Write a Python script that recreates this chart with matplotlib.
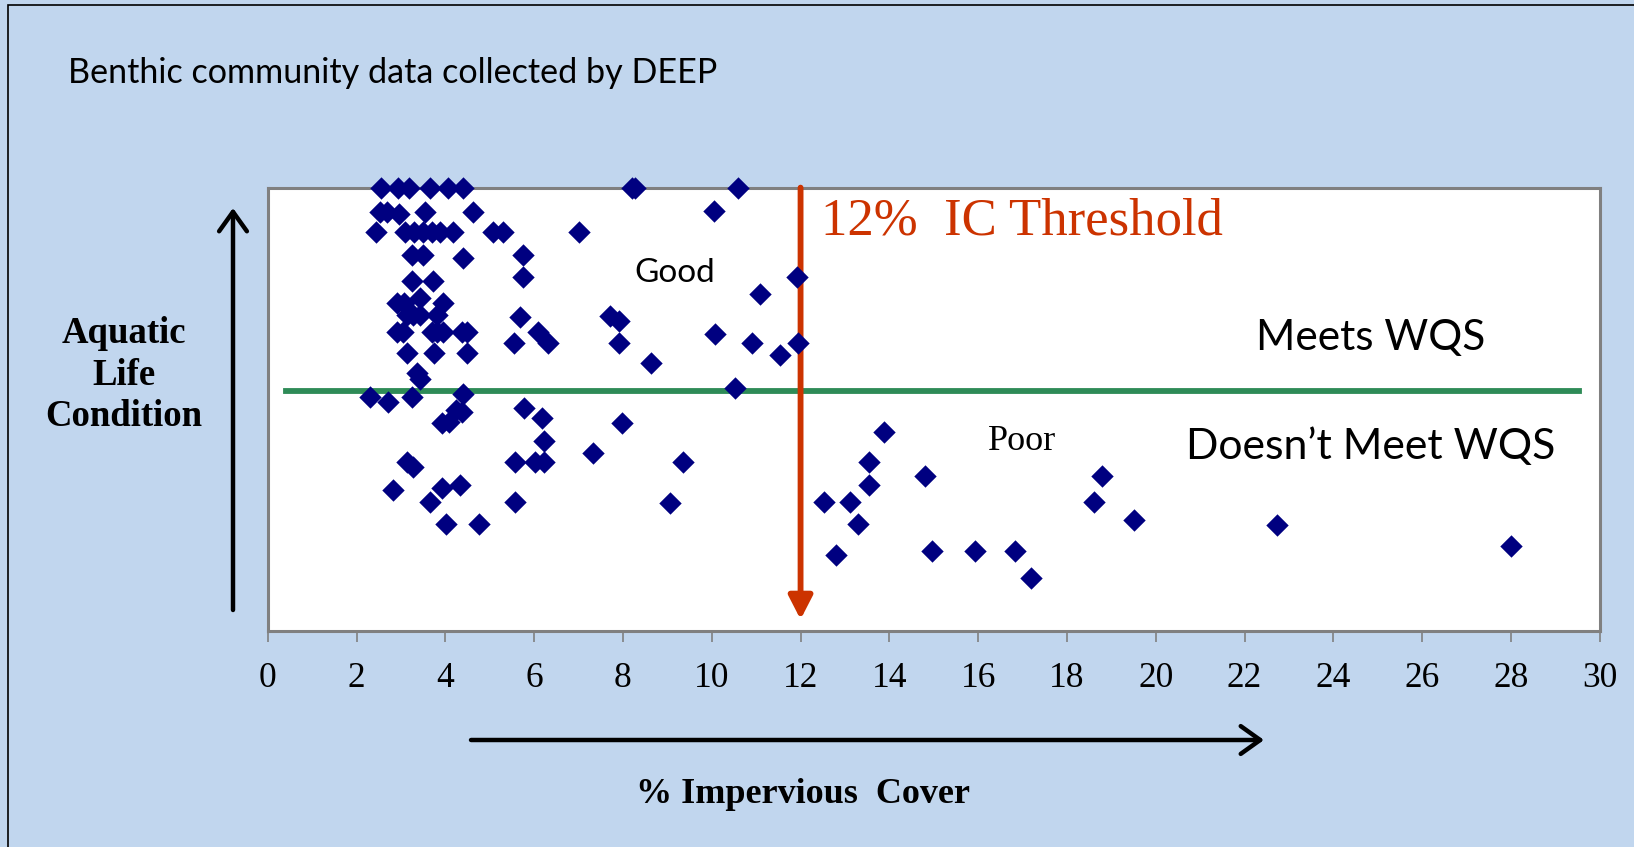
import matplotlib
matplotlib.use("Agg")
import matplotlib.pyplot as plt
from matplotlib.patches import Rectangle

# impervious cover (%) and aquatic life condition score (arbitrary 0-100 scale)
ic = [2.54, 2.94, 3.19, 3.65, 4.05, 4.39, 8.20, 8.27, 10.60,
      2.53, 2.68, 2.96, 3.53, 4.63, 10.05,
      2.44, 3.10, 3.30, 3.50, 3.69, 3.88, 4.18, 5.08, 5.30, 7.02,
      3.24, 3.50, 4.39, 5.74,
      5.74, 11.91, 3.24, 3.73,
      11.09, 3.43, 2.90, 3.07, 3.94,
      3.13, 3.28, 3.43, 3.80, 5.67, 7.71, 7.90,
      2.90, 3.05, 3.69, 3.80, 3.94, 4.37, 4.48, 6.09, 10.07,
      5.55, 6.32, 7.90, 10.91, 11.94,
      3.13, 3.75, 4.49, 11.54, 8.63,
      3.35, 3.43, 10.52, 4.40, 2.30, 3.24, 2.71,
      5.76, 4.25, 4.37, 6.18, 7.97, 3.92, 4.07,
      13.89, 6.21, 7.33,
      3.13, 5.57, 6.02, 6.21, 13.55, 3.28, 9.36,
      14.81, 18.80, 4.33, 13.55, 3.92, 2.83,
      3.65, 5.57, 9.06, 12.53, 13.12, 18.62,
      19.52, 4.01, 4.76, 13.29, 22.73, 28.0,
      14.96, 15.92, 16.84, 12.79, 17.19]
cond = [100, 100, 100, 100, 100, 100, 100, 100, 100,
        94.5, 94.5, 94.0, 94.5, 94.5, 94.8,
        89.9, 89.9, 89.9, 89.9, 89.9, 89.9, 89.9, 89.9, 89.9, 89.9,
        84.7, 84.7, 84.0, 84.7,
        79.9, 79.9, 78.9, 78.9,
        75.9, 75.0, 73.9, 73.9, 73.9,
        71.2, 71.2, 71.2, 71.2, 70.8, 71.0, 69.9,
        67.4, 67.4, 67.4, 67.4, 67.4, 67.4, 67.4, 67.4, 66.9,
        65.0, 65.0, 65.0, 65.0, 65.0,
        62.7, 62.7, 62.7, 62.2, 60.5,
        58.1, 56.7, 54.7, 53.5, 52.8, 52.8, 51.6,
        50.2, 49.8, 49.4, 47.9, 46.9, 46.8, 47.1,
        44.9, 42.8, 40.0,
        38.1, 38.1, 38.1, 38.1, 38.1, 37.0, 38.0,
        34.9, 34.9, 32.8, 32.8, 32.1, 31.7,
        29.1, 29.1, 28.9, 29.1, 29.1, 29.1,
        24.9, 24.0, 24.0, 24.0, 23.8, 19.1,
        18.0, 18.0, 18.0, 17.0, 11.8]

wqs_level = 54.1      # meets / doesn't meet WQS boundary
ic_threshold = 12
xticks = list(range(0, 31, 2))

BG = "#c1d6ee"
RED = "#cc3300"
GREEN = "#2e8b57"
SANS = ["Lato", "DejaVu Sans"]
SERIF = ["Liberation Serif", "DejaVu Serif"]

fig = plt.figure(figsize=(16.34, 8.47), dpi=100, facecolor=BG)
fig.add_artist(Rectangle((8 / 1634, -0.01), 1.02, 1 - 5 / 847 + 0.01,
                         transform=fig.transFigure, fill=False,
                         edgecolor="black", lw=1.2))

ax = fig.add_axes([0.1639, 0.2556, 0.8151, 0.5229])
ax.set_facecolor("white")
ax.set_xlim(0, 30)
ax.set_ylim(0, 100)
for s in ax.spines.values():
    s.set_color("#808080")
    s.set_linewidth(2.2)
ax.set_yticks([])
ax.set_xticks(xticks)
ax.tick_params(axis="x", direction="out", length=8, width=1.2, color="#808080",
               pad=15, labelsize=25.5)
for lab in ax.get_xticklabels():
    lab.set_family(SERIF)

ax.plot([0.42, 29.53], [wqs_level, wqs_level], color=GREEN, lw=4.2, zorder=2)
ax.annotate("", xy=(ic_threshold, 2.5), xytext=(ic_threshold, 100),
            arrowprops=dict(arrowstyle="-|>,head_length=0.7,head_width=0.36",
                            mutation_scale=20, color=RED, lw=4.2,
                            shrinkA=0, shrinkB=0), zorder=3)
ax.scatter(ic, cond, marker="D", s=130, color="#000080", zorder=5, clip_on=False,
           linewidths=0)

ax.text(12.46, 92.4, "12%  IC Threshold", color=RED, fontsize=38,
        family=SERIF, ha="left", va="center")
ax.text(9.17, 80.7, "Good", fontsize=24, family=SANS, ha="center", va="center")
ax.text(16.98, 42.6, "Poor", fontsize=26, family=SERIF, ha="center", va="center")
ax.text(24.85, 66.0, "Meets WQS", fontsize=30.5, family=SANS, ha="center", va="center")
ax.text(24.85, 41.5, "Doesn\u2019t Meet WQS", fontsize=30.8, family=SANS,
        ha="center", va="center")

fig.text(68 / 1634, 1 - 73 / 847, "Benthic community data collected by DEEP",
         fontsize=24.6, family=SANS, ha="left", va="center")
fig.text(124 / 1634, 1 - 375 / 847, "Aquatic\nLife\nCondition", fontsize=26.5,
         family=SERIF, weight="bold", ha="center", va="center",
         multialignment="center", linespacing=1.25)
fig.text(803 / 1634, 1 - 794 / 847, "% Impervious  Cover", fontsize=26,
         family=SERIF, weight="bold", ha="center", va="center")

# axis direction arrows
ax.annotate("", xy=(233, 847 - 208), xytext=(233, 847 - 610),
            xycoords="figure pixels", textcoords="figure pixels",
            arrowprops=dict(arrowstyle="->,head_length=0.7,head_width=0.5",
                            mutation_scale=20, color="black", lw=3.2,
                            shrinkA=0, shrinkB=0), annotation_clip=False)
ax.annotate("", xy=(1264, 847 - 740), xytext=(471, 847 - 740),
            xycoords="figure pixels", textcoords="figure pixels",
            arrowprops=dict(arrowstyle="->,head_length=0.7,head_width=0.5",
                            mutation_scale=20, color="black", lw=3.2,
                            shrinkA=0, shrinkB=0), annotation_clip=False)

fig.savefig("out.png", dpi=100, facecolor=BG)
